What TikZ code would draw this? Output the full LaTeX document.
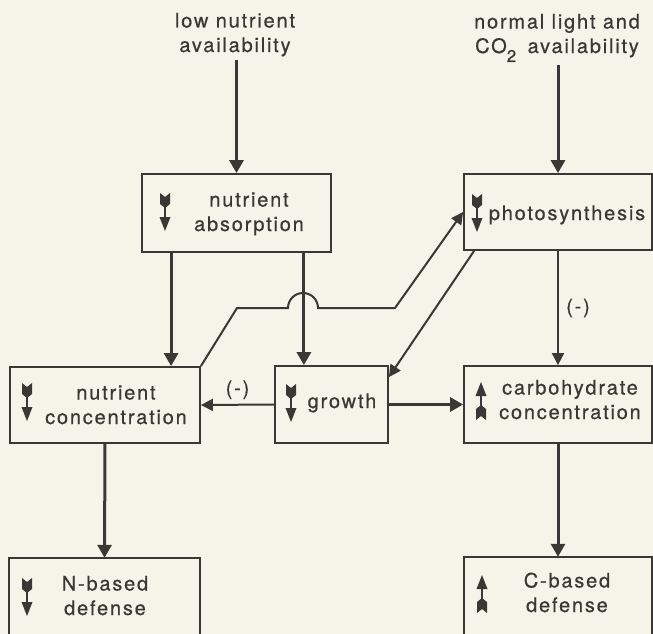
\documentclass[tikz,border=0pt]{standalone}
\usepackage{fontspec}
\newfontfamily\labfont[LetterSpace=9,FakeBold=0.6]{TeX Gyre Heros}
\usetikzlibrary{arrows.meta,calc}
\definecolor{bg}{RGB}{246,244,232}
\definecolor{ink}{RGB}{58,56,52}
\tikzset{
  dicon/.pic={
    \fill[ink] (-5,0) -- (0,4) -- (5,0) -- (5,11) -- (0,15) -- (-5,11) -- cycle;
    \draw[ink,line width=2.2pt] (0,12) -- (0,27);
    \fill[ink] (-5.5,24) -- (5.5,24) -- (0,38) -- cycle;
  }
}
\begin{document}
\begin{tikzpicture}[x=1pt,y=-1pt,
  box/.style={draw=ink,line width=1.8pt,rectangle,inner sep=0pt},
  openbox/.style={rectangle,inner sep=0pt},
  lbl/.style={font=\labfont\fontsize{20}{24.5}\selectfont,text=ink,align=center,inner sep=0pt,anchor=base},
  thk/.style={draw=ink,line width=3pt,-{Triangle[length=13pt,width=14pt]}},
  thn/.style={draw=ink,line width=2pt,-{Triangle[length=12pt,width=12pt]}},
  plain/.style={draw=ink,line width=2pt}
]
\fill[bg] (0,0) rectangle (653,634);
\useasboundingbox (0,0) rectangle (653,634);

% top texts (anchor base = baseline of last line)
\node[lbl] (lowT) at (235,52) {low nutrient\\availability};
\node[lbl] (normT) at (557,53) {normal light and\\CO\raisebox{-9pt}{\fontsize{17}{17}\selectfont 2}\hspace{4pt} availability};

% boxes
\node[box,minimum width=189pt,minimum height=78pt] (abs) at (236.5,213) {};
\node[box,minimum width=188pt,minimum height=76pt] (photo) at (558,212) {};
\node[box,minimum width=190pt,minimum height=76pt] (nconc) at (105,405) {};
\node[box,minimum width=113pt,minimum height=77pt] (growth) at (331.5,404.5) {};
\node[box,minimum width=188pt,minimum height=77pt] (carb) at (558,404.5) {};
\node[openbox,minimum width=191pt,minimum height=76pt] (ndef) at (104.5,596) {};
\node[openbox,minimum width=188pt,minimum height=77pt] (cdef) at (558,595.5) {};
\draw[plain] (ndef.south west) -- (ndef.north west) -- (ndef.north east) -- (ndef.south east);
\draw[plain] (cdef.south west) -- (cdef.north west) -- (cdef.north east) -- (cdef.south east);

% box texts
\node[lbl] (absT) at (249,231) {nutrient\\absorption};
\node[lbl] (photoT) at (567,220) {photosynthesis};
\node[lbl] (nconcT) at (116,424) {nutrient\\concentration};
\node[lbl] (growthT) at (342,408) {growth};
\node[lbl] (carbT) at (570,419) {carbohydrate\\concentration};
\node[lbl] (ndefT) at (105,615) {N-based\\defense};
\node[lbl] (cdefT) at (567,612) {C-based\\defense};

% icons
\pic at (165,193) {dicon};
\pic at (477,194) {dicon};
\pic at (27,383) {dicon};
\pic at (291,384) {dicon};
\pic[yscale=-1] at (481,420) {dicon};
\pic at (27,578) {dicon};
\pic[yscale=-1] at (482,613) {dicon};

% connectors
\draw[thk] ([yshift=-3pt]abs.north |- lowT.south) -- (abs.north);
\draw[thk] ([yshift=-3pt]photo.north |- normT.south) -- (photo.north);
\draw[thk] ([xshift=30pt]abs.south west) -- ([xshift=30pt]abs.south west |- nconc.north);
\draw[thk] ([xshift=-28pt]abs.south east) -- ([xshift=-28pt]abs.south east |- growth.north);
\coordinate (hop) at (303,308);
\draw[thn] (nconc.north east) -- (237,308) -- ([xshift=-15pt]hop)
  arc[start angle=180,end angle=0,radius=15pt] -- (395,308) -- (photo.west);
\draw[thn] ([xshift=11pt]photo.south west) -- ([yshift=-12pt]growth.north east);
\draw[thn] (photo.south) -- node[lbl,anchor=center,xshift=20pt] (m1) {(-)} (carb.north);
\draw[thk] (growth.east) -- (carb.west);
\draw[thn] (growth.west) -- node[lbl,anchor=center,yshift=15pt] (m2) {(-)} (nconc.east);
\draw[thk] (nconc.south) -- (ndef.north);
\draw[thk] (carb.south) -- (cdef.north);
\end{tikzpicture}
\end{document}
